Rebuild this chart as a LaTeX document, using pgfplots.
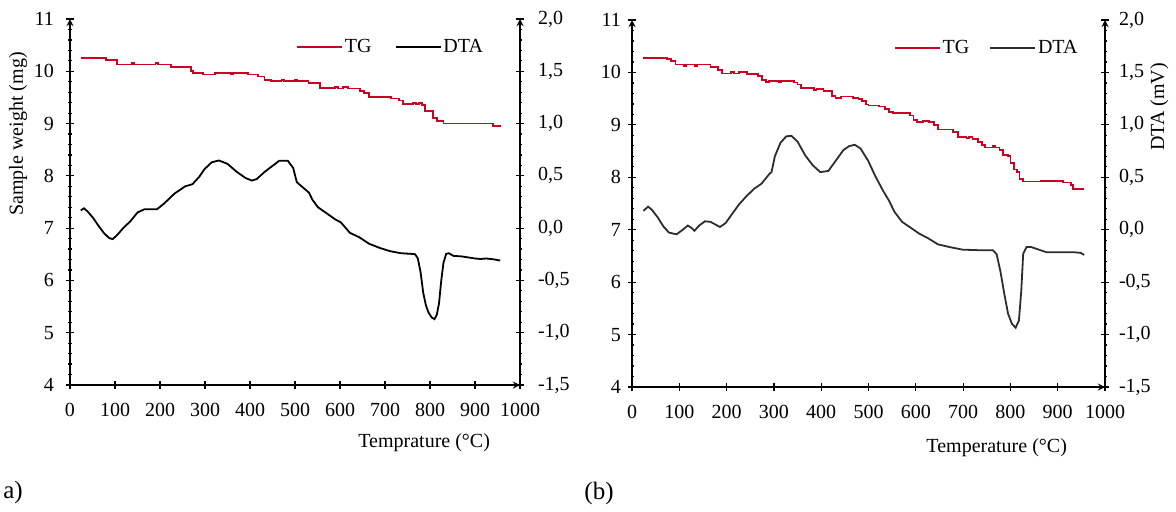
\documentclass[border=0pt]{standalone}
\usepackage{fontspec}
\setmainfont{Liberation Serif}
\usepackage{pgfplots}
\pgfplotsset{compat=1.18}
\definecolor{tgred}{RGB}{204,0,34}
\definecolor{dtagray}{RGB}{45,45,45}

\pgfplotstableread{
T w
24 10.26
80 10.22
104 10.13
138 10.16
143 10.13
190 10.16
195 10.13
224 10.08
269 10.0
274 9.96
296 9.94
322 9.97
357 9.95
363 9.97
396 9.94
418 9.90
432 9.84
446 9.81
470 9.84
475 9.81
500 9.84
504 9.81
530 9.77
556 9.68
588 9.70
596 9.67
606 9.70
618 9.67
645 9.63
653 9.58
664 9.51
713 9.48
731 9.44
740 9.38
762 9.40
768 9.37
776 9.40
782 9.35
789 9.24
806 9.10
815 9.05
830 9.00
940 8.96
957 8.96
}\tgA

\pgfplotstableread{
T d
24 0.17
31 0.19
39 0.16
51 0.10
63 0.025
75 -0.045
87 -0.095
95 -0.105
106 -0.06
118 0.0
134 0.065
150 0.15
165 0.18
193 0.18
209 0.235
232 0.33
256 0.40
272 0.42
287 0.49
299 0.565
315 0.63
331 0.647
350 0.615
370 0.54
390 0.48
404 0.455
415 0.47
433 0.54
453 0.605
465 0.645
484 0.645
496 0.575
504 0.44
516 0.395
531 0.34
539 0.27
551 0.20
571 0.14
589 0.085
602 0.055
622 -0.045
642 -0.085
665 -0.15
689 -0.19
711 -0.22
736 -0.24
763 -0.247
767 -0.25
773 -0.29
779 -0.42
785 -0.62
791 -0.74
797 -0.81
804 -0.855
810 -0.87
815 -0.83
820 -0.72
825 -0.50
830 -0.33
836 -0.245
842 -0.24
852 -0.265
870 -0.27
900 -0.29
912 -0.295
925 -0.29
935 -0.295
944 -0.30
956 -0.31
}\dtaA

\pgfplotstableread{
T w
24 10.27
74 10.25
82 10.22
92 10.15
110 10.12
114 10.15
134 10.12
138 10.15
166 10.10
182 10.05
190 9.98
210 10.01
215 9.98
226 10.01
243 9.97
266 9.93
274 9.86
284 9.82
290 9.84
310 9.82
315 9.84
342 9.81
350 9.77
358 9.70
385 9.67
390 9.69
405 9.65
423 9.55
430 9.52
442 9.54
467 9.52
479 9.50
487 9.45
495 9.39
500 9.37
523 9.35
535 9.31
543 9.24
551 9.22
587 9.18
595 9.10
602 9.05
616 9.07
628 9.05
639 9.00
647 8.91
679 8.87
690 8.77
707 8.75
712 8.77
720 8.73
731 8.68
740 8.61
747 8.57
763 8.60
768 8.57
777 8.52
785 8.43
795 8.40
800 8.27
808 8.15
814 8.10
819 7.96
826 7.92
864 7.93
912 7.90
928 7.85
933 7.78
956 7.78
}\tgB

\pgfplotstableread{
T d
24 0.18
34 0.22
42 0.19
54 0.12
66 0.034
78 -0.027
94 -0.044
106 -0.005
118 0.04
126 0.017
132 -0.01
142 0.04
154 0.08
166 0.075
186 0.026
198 0.064
210 0.14
226 0.24
242 0.32
258 0.39
274 0.44
290 0.53
295 0.55
302 0.70
314 0.83
326 0.89
337 0.896
350 0.84
366 0.71
382 0.615
398 0.55
415 0.56
431 0.66
447 0.76
459 0.797
471 0.81
483 0.775
499 0.66
515 0.505
531 0.37
543 0.28
555 0.17
571 0.075
587 0.026
607 -0.037
627 -0.084
647 -0.14
671 -0.165
699 -0.19
731 -0.195
763 -0.195
771 -0.235
779 -0.40
787 -0.61
795 -0.80
803 -0.895
811 -0.935
818 -0.865
823 -0.58
827 -0.23
834 -0.165
844 -0.165
860 -0.19
876 -0.214
932 -0.214
948 -0.22
956 -0.24
}\dtaB

\pgfplotsset{
  base/.style={
    scale only axis, xmin=0, xmax=1000,
    font=\fontsize{10}{12}\selectfont,
    tick label style={font=\fontsize{10}{12}\selectfont},
    /pgf/number format/assume math mode=true,
    /pgf/number format/1000 sep={},
    axis line style={-, line width=0.6pt, black},
    tick style={line width=0.6pt, black},
    tick align=center,
    major tick length=4pt,
    minor tick length=1.5pt,
    clip=false,
  },
  leftax/.style={
    base,
    ymin=4, ymax=11,
    axis x line=bottom, axis y line=left,
    xtick={0,100,200,300,400,500,600,700,800,900,1000},
    ytick={4,5,6,7,8,9,10,11},
    minor y tick num=4,
    xticklabel style={yshift=-3.5pt},
  },
  rightax/.style={
    base,
    ymin=-1.5, ymax=2,
    axis x line=none, axis y line=right,
    ytick={-1.5,-1,-0.5,0,0.5,1,1.5,2},
    yticklabels={{-1,5},{-1,0},{-0,5},{0,0},{0,5},{1,0},{1,5},{2,0}},
    minor y tick num=4,
    legend columns=2,
    legend image code/.code={\draw[#1] (0pt,0pt) -- (22.5pt,0pt);},
  },
}

\begin{document}
\begin{tikzpicture}
\useasboundingbox (0,0) rectangle (588pt,255.5pt);

% ---------- panel a ----------
\begin{axis}[leftax, at={(35pt,63pt)}, anchor=south west, width=225pt, height=183pt,
  yticklabel style={xshift=-2.5pt},
  xlabel={Temprature (°C)},
  xlabel style={at={(axis description cs:0.787,-0.158)}, anchor=center},
  ylabel={Sample weight (mg)},
  ylabel style={at={(axis description cs:-0.1156,0.686)}, anchor=center},
]
\addplot[const plot, tgred, line width=0.9pt] table[x=T, y=w] {\tgA};
\end{axis}
\begin{axis}[rightax, at={(35pt,63pt)}, anchor=south west, width=225pt, height=183pt,
  yticklabel style={xshift=3.5pt},
  legend style={at={(axis description cs:0.923,0.9235)}, anchor=east, draw=none, fill=none,
    inner sep=0pt, font=\fontsize{10}{12}\selectfont, nodes={inner sep=1pt},
    /tikz/every even column/.append style={column sep=10.5pt}},
]
\addlegendimage{tgred, line width=0.9pt}
\addlegendentry{TG}
\addplot[black, line width=0.9pt] table[x=T, y=d] {\dtaA};
\addlegendentry{DTA}
\end{axis}

% ---------- panel b ----------
\begin{axis}[leftax, at={(316pt,62pt)}, anchor=south west, width=236.5pt, height=183.5pt,
  xlabel={Temperature (°C)},
  xlabel style={at={(axis description cs:0.771,-0.166)}, anchor=center},
]
\addplot[const plot, tgred, line width=0.9pt] table[x=T, y=w] {\tgB};
\end{axis}
\begin{axis}[rightax, at={(316pt,62pt)}, anchor=south west, width=236.5pt, height=183.5pt,
  yticklabel style={xshift=1.5pt},
  ylabel={DTA (mV)},
  ylabel style={at={(axis description cs:1.115,0.763)}, anchor=center},
  legend style={at={(axis description cs:0.947,0.924)}, anchor=east, draw=none, fill=none,
    inner sep=0pt, font=\fontsize{10}{12}\selectfont, nodes={inner sep=1pt},
    /tikz/every even column/.append style={column sep=9pt}},
]
\addlegendimage{tgred, line width=0.9pt}
\addlegendentry{TG}
\addplot[dtagray, line width=0.9pt] table[x=T, y=d] {\dtaB};
\addlegendentry{DTA}
\end{axis}

\node[font=\fontsize{12.5}{14}\selectfont] at (6.5pt,9.5pt) {a)};
\node[font=\fontsize{12.5}{14}\selectfont] at (299.5pt,9pt) {(b)};
\end{tikzpicture}
\end{document}
